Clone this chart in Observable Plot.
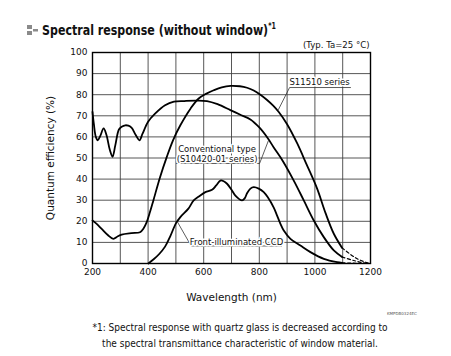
<!DOCTYPE html>
<html>
<head>
<meta charset="utf-8">
<script src="https://cdn.jsdelivr.net/npm/d3@7"></script>
<script src="https://cdn.jsdelivr.net/npm/@observablehq/plot@0.6"></script>
<style>
  body { margin: 0; background: #fff; }
  #wrap { position: relative; width: 451px; height: 356px; overflow: hidden; background: #fff; font-family: "DejaVu Sans", Verdana, sans-serif; color: #111; }
  .abs { position: absolute; white-space: nowrap; }
</style>
</head>
<body>
<div id="wrap">
  <div id="chart" class="abs" style="left:0;top:0"></div>
  <div class="abs" style="left:27px;top:25px;">
    <svg width="12" height="12" style="display:block">
      <rect x="0" y="0" width="5" height="4" fill="#8a8a8a"/>
      <rect x="0" y="6" width="5" height="4" fill="#8a8a8a"/>
      <rect x="6" y="4" width="5" height="2.5" fill="#8a8a8a"/>
    </svg>
  </div>
  <div class="abs" style="left:42px;top:22px;font-weight:bold;font-size:14px;transform:scaleX(0.79);transform-origin:0 0;">Spectral response (without window)<sup style="font-size:8px;vertical-align:6px">*1</sup></div>
  <div class="abs" style="left:303px;top:39px;font-size:9.5px;transform:scaleX(0.9);transform-origin:0 0;">(Typ. Ta=25 °C)</div>
  <div class="abs" style="left:387px;top:311px;font-size:4px;color:#555">KMPDB0324EC</div>
  <div class="abs" style="left:40px;top:320px;font-size:10px;line-height:16px;text-align:center;width:400px;transform:scaleX(0.9);transform-origin:200px 0;">*1: Spectral response with quartz glass is decreased according to<br>the spectral transmittance characteristic of window material.</div>
</div>
<script>
// ---- data (wavelength nm, quantum efficiency %) ----
const s11510_wl  = [200,215,233,255,275,290,305,340,371,383,395,407,419,443,467,490,516,553,582,610,636,665,697,730,756,780,804,828,850,870,900,936,970,1008,1038,1068,1098];
const s11510_qe  = [20.4,18.8,16.4,13.5,11.7,12.8,13.7,14.4,14.8,16.5,19.6,24.5,29.9,40.9,50.4,58.5,65.5,73.5,78.2,80.5,82.1,83.5,84.2,84.0,83.3,82.0,80.0,77.5,74.8,71.8,66.0,57.0,47.0,35.5,24.0,14.1,7.4];
const s11510_tail_wl = [1098,1146,1182,1200];
const s11510_tail_qe = [7.4,2.7,0.6,0];

const conv_wl = [200,205,212,219,228,240,250,262,272,282,295,305,318,329,341,355,369,380,400,425,461,493,530,570,612,650,696,730,768,800,830,852,885,924,960,996,1032,1068,1098];
const conv_qe = [71.9,66,60,58.4,60.5,64,61,54,50.6,56,63.5,64.8,65.5,65.3,64.3,61,58.4,61.5,67.2,71,75,76.7,77,77.2,77,75.5,72.7,70.6,68.3,64.5,59.5,55,48.5,39.3,29.9,20.4,12.5,6.2,3.1];
const conv_tail_wl = [1098,1140,1182,1200];
const conv_tail_qe = [3.1,1.4,0.1,0];

const fi_wl = [401,420,440,461,480,500,516,545,564,585,606,630,645,660,672,684,700,714,738,748,756,768,780,798,816,830,852,864,876,888,912,948,984,1032,1080,1098];
const fi_qe = [0,2,4.5,8,13,19,22,26,29.9,32,33.8,34.9,37,39.3,39,37.8,35,32.2,29.9,31,33.3,35.5,36.2,35.5,33.8,31.5,26.5,22.7,18.8,15.6,11.7,8.5,5.4,2.2,0.6,0.3];
const fi_tail_wl = [1098,1150,1200];
const fi_tail_qe = [0.3,0.1,0];

// axes
const xTickLabels = [200,400,600,800,1000,1200];
const xGridValues = [200,300,400,500,600,700,800,900,1000,1100,1200];
const yTickValues = [0,10,20,30,40,50,60,70,80,90,100];
const xTitle = "Wavelength (nm)";
const yTitle = "Quantum efficiency (%)";

// annotations (label text + anchor in data space)
const labelNames = ["S11510 series", "Conventional type\n(S10420-01 series)", "Front-illuminated CCD"];
const labelX = [1017, 648, 718];
const labelY = [86.1, 52.1, 10.6];
const leaderNames = ["a","a","a","b","b","b","c","c","c"];
const leaderX = [1128, 909, 869,   502, 801, 833,   880, 555, 506];
const leaderY = [83.4, 83.4, 73.0, 47.4, 47.4, 58.3, 8.3, 8.3, 19.6];

// ---- build tables ----
const zip = (xs, ys) => xs.map((x, i) => ({x, y: ys[i]}));
const series = [
  ["S11510", s11510_wl, s11510_qe, s11510_tail_wl, s11510_tail_qe],
  ["Conventional", conv_wl, conv_qe, conv_tail_wl, conv_tail_qe],
  ["Front", fi_wl, fi_qe, fi_tail_wl, fi_tail_qe]
];
const solid = series.flatMap(([n, xs, ys]) => zip(xs, ys).map(d => ({...d, n})));
const dashed = series.flatMap(([n, , , xs, ys]) => zip(xs, ys).map(d => ({...d, n})));
const labels = labelNames.map((t, i) => ({t, x: labelX[i], y: labelY[i]}));
const leaders = leaderNames.map((n, i) => ({n, x: leaderX[i], y: leaderY[i]}));

const chart = Plot.plot({
  width: 451,
  height: 356,
  marginLeft: 92,
  marginRight: 81,
  marginTop: 52,
  marginBottom: 93,
  style: {fontFamily: "'DejaVu Sans', Verdana, sans-serif", fontSize: "9px", color: "#111", background: "transparent"},
  x: {domain: [200, 1200]},
  y: {domain: [0, 100]},
  marks: [
    Plot.gridX(xGridValues, {stroke: "#444", strokeOpacity: 1, strokeWidth: 0.9}),
    Plot.gridY(yTickValues, {stroke: "#444", strokeOpacity: 1, strokeWidth: 0.9}),
    Plot.axisX(xTickLabels, {tickSize: 0, tickPadding: 5, fontSize: 9, tickFormat: d => String(d), label: null}),
    Plot.axisY(yTickValues, {tickSize: 0, tickPadding: 5, fontSize: 9, tickFormat: d => String(d), label: null}),
    Plot.text([xTitle], {frameAnchor: "bottom", dy: 37, fontSize: 10.5, textAnchor: "middle", text: d => d}),
    Plot.text([yTitle], {frameAnchor: "left", rotate: -90, dx: -42, fontSize: 10.5, textAnchor: "middle", text: d => d}),
    Plot.line(solid, {x: "x", y: "y", z: "n", stroke: "#000", strokeWidth: 1.8, curve: "catmull-rom"}),
    Plot.line(dashed, {x: "x", y: "y", z: "n", stroke: "#000", strokeWidth: 1.2, strokeDasharray: "3,2.5", curve: "catmull-rom"}),
    Plot.line(leaders, {x: "x", y: "y", z: "n", stroke: "#333", strokeWidth: 0.8}),
    Plot.text(labels, {x: "x", y: "y", text: "t", fontSize: 8.5, textAnchor: "middle", lineHeight: 1.25, fill: "#111", stroke: "white", strokeWidth: 3}),
    Plot.frame({stroke: "#000", strokeWidth: 1.4})
  ]
});
document.getElementById("chart").appendChild(chart);
</script>
</body>
</html>
